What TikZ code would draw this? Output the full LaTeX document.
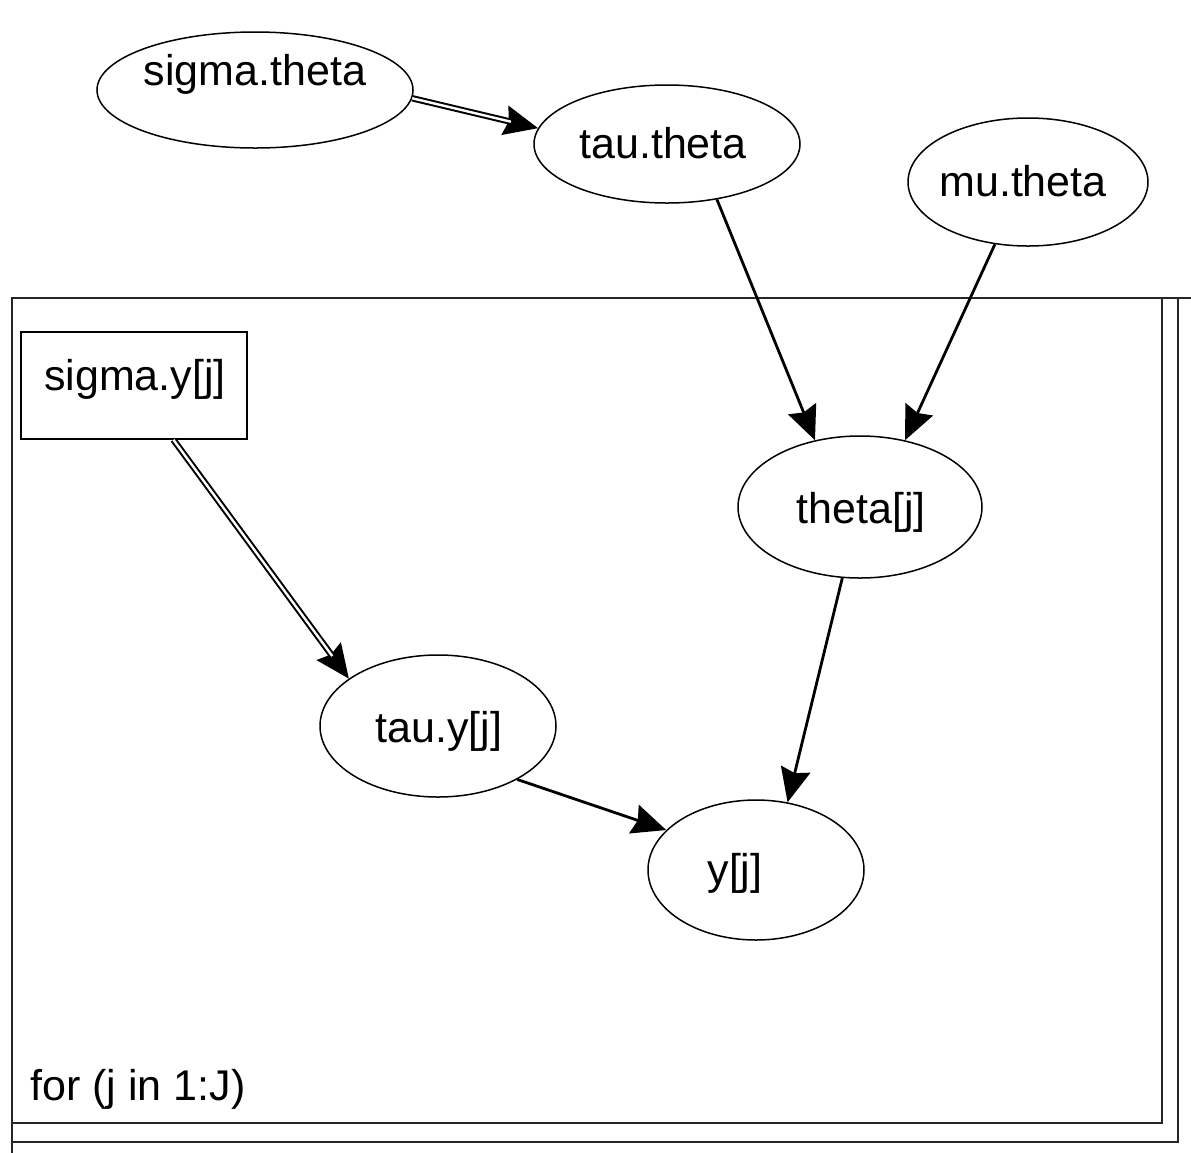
\documentclass[tikz,border=0pt]{standalone}
\usepackage{fontspec}
\setmainfont{Liberation Sans}
\usetikzlibrary{shapes.geometric,arrows.meta}
\begin{document}
\begin{tikzpicture}[x=0.5pt,y=-0.5pt,
  ell/.style={ellipse, draw, line width=0.75pt, inner sep=0pt},
  boxnode/.style={rectangle, draw, line width=0.8pt, inner sep=0pt},
  lbl/.style={anchor=base, inner sep=0pt, font=\fontsize{21.5pt}{26pt}\selectfont},
  plate/.style={line width=1.1pt, draw=black!85},
  single/.style={line width=1.4pt, -{Stealth[length=17pt,width=15pt,inset=2pt]}},
  dbl/.style={line width=1pt, double, double distance=1.2pt},
  tiponly/.style={line width=1pt, -{Stealth[length=17pt,width=15pt,inset=2pt]}}
]
\useasboundingbox (0,0) rectangle (1191,1153);
% plate
\draw[plate] (12,1153) -- (12,298) -- (1191,298);
\draw[plate] (1162,298) -- (1162,1123) -- (12,1123);
\draw[plate] (1178,298) -- (1178,1142) -- (12,1142);
% nodes
\node[ell, minimum width=158pt, minimum height=58pt] (st) at (255,90) {};
\node[ell, minimum width=133pt, minimum height=59pt] (tt) at (667,144) {};
\node[ell, minimum width=120pt, minimum height=64pt] (mt) at (1028,182) {};
\node[boxnode, minimum width=113pt, minimum height=53.5pt] (sy) at (134,385.5) {};
\node[ell, minimum width=122pt, minimum height=71pt] (th) at (860,507) {};
\node[ell, minimum width=118pt, minimum height=71pt] (ty) at (438,726) {};
\node[ell, minimum width=108pt, minimum height=70pt] (yj) at (756,870) {};
% labels
\node[lbl] (stl) at (255,85) {sigma.theta};
\node[lbl] (ttl) at (663,158) {tau.theta};
\node[lbl] (mtl) at (1023,196) {mu.theta};
\node[lbl] (syl) at (135,390) {sigma.y[j]};
\node[lbl] (thl) at (861,523) {theta[j]};
\node[lbl] (tyl) at (439,742) {tau.y[j]};
\node[lbl] (yjl) at (735,884) {y[j]};
\node[lbl, anchor=base west] (forl) at (30,1100) {for (j in 1:J)};
% connectors
\draw[single] (tt.-48.7) -- (th.124);
\draw[single] (mt.242) -- (th.56);
\draw[single] (th.-104.9) -- (yj.65.6);
\draw[single] (ty.-34.8) -- (yj.156.3);
% double connectors
\draw[tiponly] (st.-3.8) -- (tt.173.7);
\draw[dbl, shorten >=14pt] (st.-3.8) -- (tt.173.7);
\draw[tiponly] (sy.-54.6) -- (ty.152.4);
\draw[dbl, shorten >=14pt] (sy.-54.6) -- (ty.152.4);
\end{tikzpicture}
\end{document}
